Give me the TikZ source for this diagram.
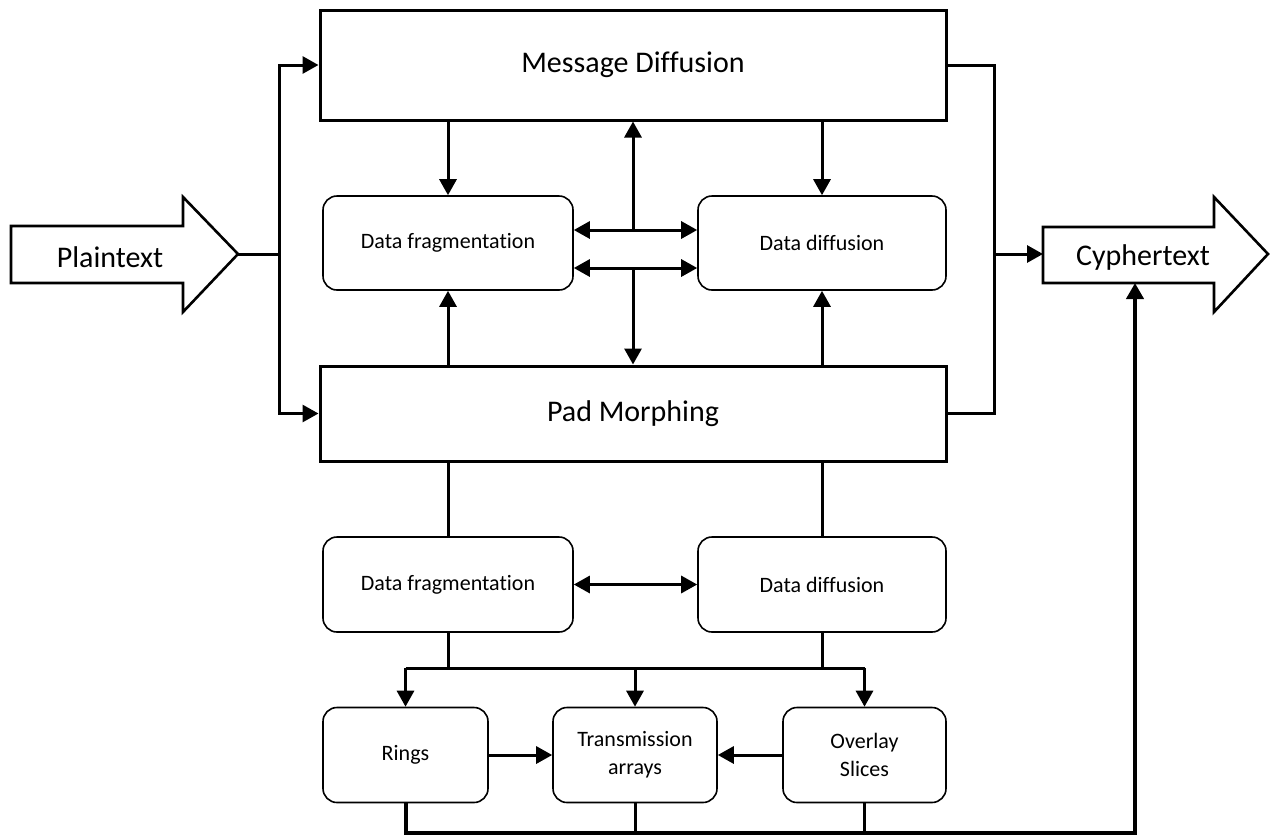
\documentclass[tikz,border=0pt]{standalone}
\usepackage{fontspec}
\setmainfont[Ligatures=NoCommon]{Carlito}
\usetikzlibrary{arrows.meta,calc}

\begin{document}
\begin{tikzpicture}[x=1pt,y=-1pt,
  wire/.style={line width=3pt},
  arr/.style={wire,-{Triangle[length=16pt,width=17pt]}},
  darr/.style={wire,{Triangle[length=16pt,width=17pt]}-{Triangle[length=16pt,width=17pt]}},
  bigbox/.style={draw,line width=3pt,minimum width=626pt,font=\fontsize{30}{34}\selectfont},
  stage/.style={draw,line width=1.6pt,rounded corners=14pt,align=center,minimum height=95pt,font=\fontsize{22}{28}\selectfont},
  bigarrow/.style={draw,line width=2.6pt}]
  \useasboundingbox (0,0) rectangle (1271,836);
  % Input and output arrows
  \draw[bigarrow] (11,226) -- (183,226) -- (183,197) -- (238,254) -- (183,312) -- (183,283) -- (11,283) -- cycle;
  \node[font=\fontsize{30}{34}\selectfont] (plain) at (110,257) {Plaintext};
  \coordinate (plaintip) at (238,254);
  \draw[bigarrow] (1043,227) -- (1214,227) -- (1214,197) -- (1268,254) -- (1214,312) -- (1214,283) -- (1043,283) -- cycle;
  \node[font=\fontsize{30}{34}\selectfont] (cypher) at (1143,257) {Cyphertext};
  \coordinate (cypherin) at (1043,254);
  \coordinate (cypherbot) at (1135,283);
  % Main blocks
  \node[bigbox,minimum height=110pt] (md) at (633,65) {Message Diffusion};
  \node[bigbox,minimum height=95pt] (pm) at (633,413.5) {Pad Morphing};
  \node[stage,minimum width=250pt,minimum height=94pt] (frag1) at (448,243) {Data fragmentation};
  \node[stage,minimum width=248pt,minimum height=94pt] (diff1) at (822,243) {Data diffusion};
  \node[stage,minimum width=250pt] (frag2) at (448,584.5) {Data fragmentation};
  \node[stage,minimum width=248pt] (diff2) at (822,584.5) {Data diffusion};
  \node[stage,minimum width=165pt] (rings) at (405.5,755) {Rings};
  \node[stage,minimum width=164pt] (trans) at (635,755) {Transmission\\arrays};
  \node[stage,minimum width=163pt] (overlay) at (864.5,755) {Overlay\\Slices};
  % Split and join
  \coordinate (fork) at (279,254);
  \coordinate (join) at (994,254);
  \draw[wire] (plaintip) -- (fork);
  \draw[arr] (fork) |- (md.west);
  \draw[arr] (fork) |- (pm.west);
  \draw[wire] (md.east) -| (join) |- (pm.east);
  \draw[arr] (join) -- (cypherin);
  % Upper stage
  \coordinate (upx) at (633,230);
  \coordinate (dnx) at (633,268);
  \draw[darr] (frag1.east |- upx) -- (diff1.west |- upx);
  \draw[darr] (frag1.east |- dnx) -- (diff1.west |- dnx);
  \draw[arr] (upx) -- (md.south);
  \draw[arr] (dnx) -- (pm.north);
  \draw[arr] (frag1.north |- md.south) -- (frag1.north);
  \draw[arr] (diff1.north |- md.south) -- (diff1.north);
  \draw[arr] (frag1.south |- pm.north) -- (frag1.south);
  \draw[arr] (diff1.south |- pm.north) -- (diff1.south);
  % Lower stage
  \draw[wire] (frag2.north |- pm.south) -- (frag2.north);
  \draw[wire] (diff2.north |- pm.south) -- (diff2.north);
  \draw[darr] (frag2) -- (diff2);
  \coordinate (bus) at (633,668);
  \draw[wire] (frag2.south) -- (frag2.south |- bus);
  \draw[wire] (diff2.south) -- (diff2.south |- bus);
  \draw[wire] (rings.north |- bus) -- (overlay.north |- bus);
  \foreach \b in {rings,trans,overlay}
    \draw[arr] (\b.north |- bus) -- (\b.north);
  \draw[arr] (rings) -- (trans);
  \draw[arr] (overlay) -- (trans);
  % Return to output
  \coordinate (ret) at (1135,833);
  \draw[wire] (trans.south) -- (trans.south |- ret);
  \draw[wire] (overlay.south) -- (overlay.south |- ret);
  \draw[arr,line width=4pt] (rings.south) |- (ret) -- (cypherbot);
\end{tikzpicture}
\end{document}
